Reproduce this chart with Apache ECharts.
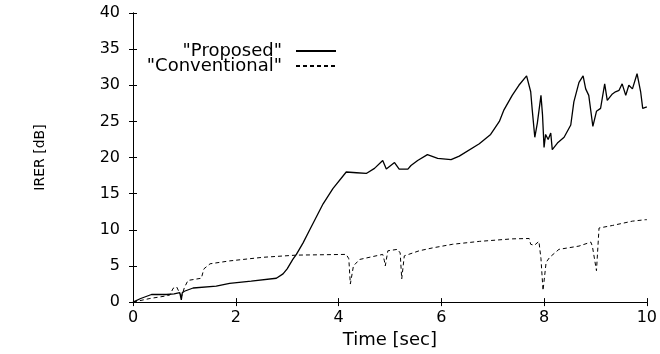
<!DOCTYPE html>
<html><head><meta charset="utf-8">
<script src="https://cdn.jsdelivr.net/npm/echarts@6/dist/echarts.min.js"></script>
<style>html,body{margin:0;padding:0;background:#fff}#c{width:660px;height:354px}</style>
</head><body><div id="c"></div>
<script>
const xTicks = [0, 2, 4, 6, 8, 10];
const yTicks = [0, 5, 10, 15, 20, 25, 30, 35, 40];
const seriesNames = ['"Proposed"', '"Conventional"'];
const propT = [0,0.15,0.36,0.65,0.80,0.91,0.94,0.96,1.0,1.17,1.62,1.88,2.3,2.79,2.92,3.0,3.11,3.18,3.31,3.44,3.70,3.89,4.15,4.35,4.54,4.70,4.86,4.93,5.09,5.18,5.35,5.41,5.54,5.73,5.93,6.19,6.35,6.74,6.96,7.13,7.22,7.38,7.51,7.66,7.74,7.77,7.82,7.87,7.94,7.97,8.0,8.03,8.08,8.13,8.16,8.26,8.39,8.52,8.58,8.68,8.76,8.81,8.87,8.95,9.02,9.10,9.18,9.23,9.33,9.39,9.46,9.52,9.59,9.65,9.72,9.81,9.88,9.92,10.0];
const propV = [0,0.5,1.05,1.05,1.15,1.3,0.3,1.3,1.5,1.95,2.2,2.6,2.9,3.3,3.9,4.6,5.9,6.6,8.2,10.0,13.6,15.7,18.0,17.9,17.8,18.5,19.6,18.4,19.3,18.4,18.4,18.9,19.6,20.4,19.9,19.7,20.2,21.9,23.2,25.0,26.6,28.6,30.0,31.3,29.1,26.6,22.8,24.8,28.6,25.9,21.4,23.2,22.5,23.4,21.1,22.0,22.8,24.5,27.7,30.4,31.3,29.5,28.6,24.3,26.4,26.8,30.2,27.9,28.8,29.1,29.3,30.2,28.6,30.0,29.5,31.6,29.1,26.8,27.0];
const convT = [0,0.33,0.65,0.72,0.78,0.85,0.91,0.95,1.0,1.07,1.33,1.38,1.50,1.88,2.53,3.18,4.15,4.20,4.23,4.29,4.41,4.86,4.89,4.91,4.96,5.15,5.20,5.23,5.28,5.57,5.83,6.22,6.74,7.38,7.71,7.74,7.81,7.90,7.94,7.98,8.04,8.11,8.29,8.68,8.91,8.94,8.97,9.02,9.07,9.33,9.72,9.97,10.0];
const convV = [0,0.5,0.86,1.0,1.9,2.1,1.2,0.9,2.0,3.0,3.3,4.6,5.3,5.7,6.2,6.5,6.6,6.0,2.5,5.0,5.9,6.6,5.8,5.0,7.1,7.3,6.8,3.2,6.4,7.1,7.5,8.0,8.4,8.75,8.8,8.0,7.85,8.4,6.0,1.6,5.5,6.2,7.3,7.75,8.3,7.75,7.5,4.35,10.25,10.6,11.2,11.4,11.4];

const zip = (a, b) => a.map((t, i) => [t, b[i]]);
const font = '"DejaVu Sans", Verdana, sans-serif';
const xMin = xTicks[0], xMax = xTicks[xTicks.length-1], xInt = xTicks[1]-xTicks[0];
const yMin = yTicks[0], yMax = yTicks[yTicks.length-1], yInt = yTicks[1]-yTicks[0];
const axLine = {show: true, lineStyle: {color: '#000', width: 1}};
const tick = {show: true, inside: true, length: 4, lineStyle: {color: '#000'}};

const chart = echarts.init(document.getElementById('c'), null, {renderer: 'canvas'});
chart.setOption({
  animation: false,
  backgroundColor: '#fff',
  grid: {left: 133, right: 12, top: 13, bottom: 47},
  legend: {
    orient: 'vertical', align: 'right', right: 318, top: 37,
    itemWidth: 40, itemHeight: 15, itemGap: -3,
    itemStyle: {opacity: 0},
    textStyle: {fontFamily: font, fontSize: 18, lineHeight: 15, color: '#000', padding: [0, 9, 0, 0]},
    data: seriesNames
  },
  xAxis: [
    {type: 'value', min: xMin, max: xMax, interval: xInt, axisLine: axLine, axisTick: tick,
     splitLine: {show: false},
     axisLabel: {fontFamily: font, fontSize: 16, color: '#000', margin: 8},
     name: 'Time [sec]', nameLocation: 'middle', nameGap: 22,
     nameTextStyle: {fontFamily: font, fontSize: 18, color: '#000'}},
    {type: 'value', position: 'top', min: xMin, max: xMax, interval: xInt, axisLine: axLine,
     axisTick: tick, axisLabel: {show: false}, splitLine: {show: false}}
  ],
  yAxis: [
    {type: 'value', min: yMin, max: yMax, interval: yInt, axisLine: axLine, axisTick: tick,
     splitLine: {show: false},
     axisLabel: {fontFamily: font, fontSize: 16, color: '#000', margin: 13},
     name: 'IRER [dB]', nameLocation: 'middle', nameGap: 86, nameRotate: 90,
     nameTextStyle: {fontFamily: font, fontSize: 14, color: '#000'}},
    {type: 'value', position: 'right', min: yMin, max: yMax, interval: yInt, axisLine: axLine,
     axisTick: tick, axisLabel: {show: false}, splitLine: {show: false}}
  ],
  series: [
    {name: seriesNames[0], type: 'line', data: zip(propT, propV), symbol: 'none', showSymbol: false,
     lineStyle: {color: '#000', width: 1.3, type: 'solid'}, itemStyle: {color: '#000'}},
    {name: seriesNames[1], type: 'line', data: zip(convT, convV), symbol: 'none', showSymbol: false,
     lineStyle: {color: '#000', width: 1, type: [4, 3]}, itemStyle: {color: '#000'}}
  ]
});
</script></body></html>
